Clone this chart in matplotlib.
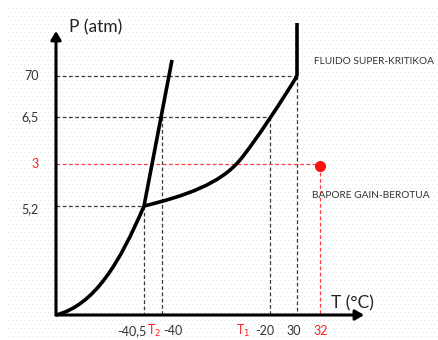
import numpy as np
import matplotlib
matplotlib.use("Agg")
import matplotlib.pyplot as plt
from matplotlib.patches import FancyArrowPatch, PathPatch
from matplotlib.path import Path

plt.rcParams['font.family'] = ['Lato', 'DejaVu Sans']

# ---- schematic data (diagram units: pixels of the 438x340 canvas, y downwards) ----
origin = (56, 315)
p_labels = ["70", "6,5", "3", "5,2"]
p_levels = [76, 117, 164, 206]
p_colors = ["#333333", "#333333", "#ff2020", "#333333"]

t_labels = ["-40,5", "-40", "-20", "30", "32"]
t_levels = [144, 162, 270, 297, 320]

triple = (144, 206)
critical = (297, 76)

# sublimation curve (cubic Bezier: start, ctrl, ctrl, end)
sub_pts = [(56, 315), (95, 305), (120, 262), (144, 206)]
# vaporization curve (two cubic Bezier segments)
vap_pts = [(144, 206), (185, 196), (220, 184), (240, 160),
           (255, 142), (285, 96), (297, 76)]

melt_x = [144, 172]
melt_y = [206, 60]

super_x = [297, 297]
super_y = [76, 23]

state_x, state_p = 320, 166

fig = plt.figure(figsize=(4.38, 3.40), dpi=100)
ax = fig.add_axes([0, 0, 1, 1])
ax.set_xlim(0, 438)
ax.set_ylim(340, 0)
ax.axis('off')

# faint dotted background
H, W = 340, 438
bg = np.ones((H, W, 3))
for yy in range(8, H, 4):
    off = 0 if (yy // 4) % 2 == 0 else 2
    for xx in range(8 + off, W, 4):
        if ((xx + yy) // 4) % 3 == 0:
            bg[yy, xx] = (0.80, 0.93, 0.90)
        else:
            bg[yy, xx] = (0.88, 0.90, 0.90)
ax.imshow(bg, extent=(0, W, H, 0), zorder=0, interpolation='nearest')

dash = dict(color='#3a3a3a', lw=0.9, ls=(0, (3, 2)), zorder=2)
# horizontal guides
ax.plot([origin[0], critical[0]], [p_levels[0]] * 2, **dash)
ax.plot([origin[0], t_levels[2]], [p_levels[1]] * 2, **dash)
ax.plot([origin[0], triple[0]], [p_levels[3]] * 2, **dash)
# vertical guides
ax.plot([t_levels[0]] * 2, [triple[1], origin[1]], **dash)
ax.plot([t_levels[1]] * 2, [p_levels[1], origin[1]], **dash)
ax.plot([t_levels[2]] * 2, [p_levels[1], origin[1]], **dash)
ax.plot([t_levels[3]] * 2, [critical[1], origin[1]], **dash)
# red guides
rdash = dict(color='#ff4040', lw=0.9, ls=(0, (3, 2)), zorder=2)
ax.plot([origin[0], state_x], [p_levels[2]] * 2, **rdash)
ax.plot([state_x] * 2, [state_p, origin[1]], **rdash)

# axes with arrows
ax.add_patch(FancyArrowPatch((origin[0], origin[1]), (origin[0], 31),
                             arrowstyle='-|>,head_length=5,head_width=3', lw=2.2,
                             color='black', zorder=4, shrinkA=0, shrinkB=0))
ax.add_patch(FancyArrowPatch((origin[0], origin[1]), (364, origin[1]),
                             arrowstyle='-|>,head_length=5,head_width=3', lw=2.2,
                             color='black', zorder=4, shrinkA=0, shrinkB=0))

# phase curves
curve = dict(color='black', lw=2.6, zorder=5, solid_capstyle='butt', solid_joinstyle='round')
ax.add_patch(PathPatch(Path(sub_pts, [Path.MOVETO] + [Path.CURVE4] * 3),
                       fill=False, ec='black', lw=2.6, zorder=5))
ax.add_patch(PathPatch(Path(vap_pts, [Path.MOVETO] + [Path.CURVE4] * 6),
                       fill=False, ec='black', lw=2.6, zorder=5))
ax.plot(melt_x, melt_y, **curve)
ax.plot(super_x, super_y, **curve)

ax.plot([state_x], [state_p], 'o', color='#ff1010', ms=7, zorder=6)

# labels
for lab, yv, c in zip(p_labels, p_levels, p_colors):
    dy = 3 if lab == "5,2" else 0
    ax.text(39, yv + dy, lab, ha='right', va='center', fontsize=9, color=c)

t_anchor = [(146, 'right'), (163, 'left'), (265, 'center'), (294, 'center'), (321, 'center')]
t_colors = ["#333333", "#333333", "#333333", "#333333", "#ff2020"]
for lab, (xa, ha), c in zip(t_labels, t_anchor, t_colors):
    ax.text(xa, 331, lab, ha=ha, va='center', fontsize=9, color=c)
ax.text(154, 331, r"T$_2$", ha='center', va='center', fontsize=9, color='#ff2020')
ax.text(243, 331, r"T$_1$", ha='center', va='center', fontsize=9, color='#ff2020')

ax.text(96, 27, "P (atm)", ha='center', va='center', fontsize=12.5, color='#222222')
ax.text(352, 303, "T (°C)", ha='center', va='center', fontsize=12.5, color='#222222')
ax.text(374, 61, "FLUIDO SUPER-KRITIKOA", ha='center', va='center', fontsize=7.3, color='#333333')
ax.text(371, 195, "BAPORE GAIN-BEROTUA", ha='center', va='center', fontsize=7.3, color='#333333')

fig.savefig("out.png", dpi=100)
